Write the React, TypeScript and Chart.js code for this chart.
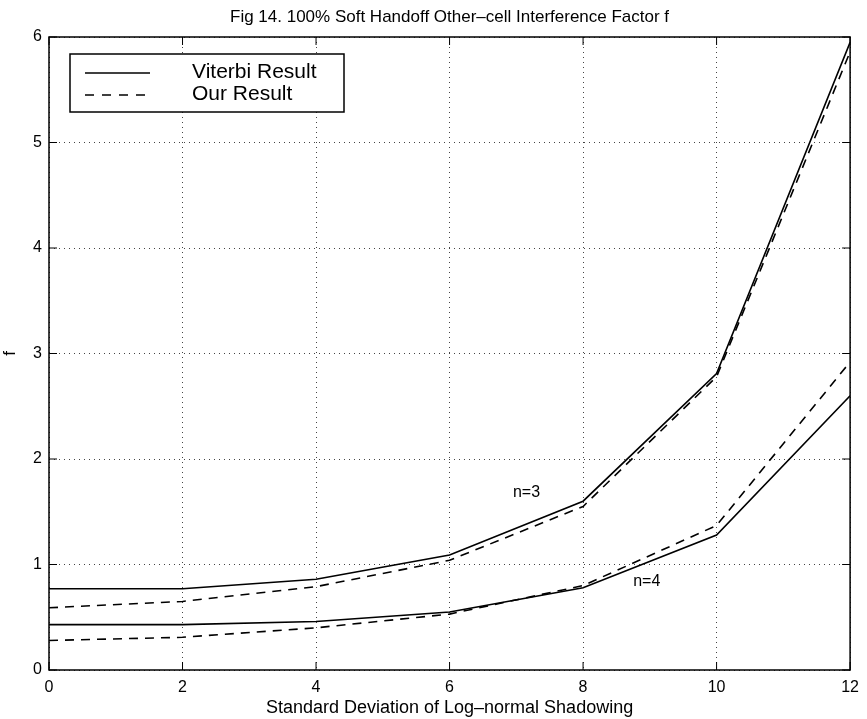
import React, { useEffect, useRef } from "react";
import { Chart, registerables } from "chart.js";

Chart.register(...registerables);

const xValues = [0, 2, 4, 6, 8, 10, 12];
const viterbiN3 = [0.77, 0.77, 0.86, 1.09, 1.6, 2.81, 5.95];
const ourN3 = [0.59, 0.65, 0.79, 1.04, 1.55, 2.78, 5.86];
const viterbiN4 = [0.43, 0.43, 0.46, 0.55, 0.78, 1.28, 2.6];
const ourN4 = [0.28, 0.31, 0.4, 0.53, 0.8, 1.37, 2.92];
const titleText = "Fig 14. 100% Soft Handoff Other\u2013cell Interference Factor f";
const xTitle = "Standard Deviation of Log\u2013normal Shadowing";
const yTitle = "f";
const legendLabels = ["Viterbi Result", "Our Result"];
const annotations = [
  { x: 6.95, y: 1.68, text: "n=3" },
  { x: 8.75, y: 0.84, text: "n=4" },
];

const FONT = "'Liberation Sans', Arial, Helvetica, sans-serif";

const toPts = (ys: number[]) => ys.map((y, i) => ({ x: xValues[i], y }));

const framePlugin = {
  id: "frame",
  afterDraw(chart: any) {
    const { ctx, chartArea } = chart;
    const { left, right, top, bottom } = chartArea;
    const xs = chart.scales.x;
    const ys = chart.scales.y;
    ctx.save();
    ctx.strokeStyle = "#000";
    ctx.lineWidth = 1.5;
    ctx.setLineDash([]);
    ctx.strokeRect(left, top, right - left, bottom - top);
    ctx.lineWidth = 1;
    for (let v = 0; v <= 12; v += 2) {
      const px = xs.getPixelForValue(v);
      ctx.beginPath();
      ctx.moveTo(px, bottom);
      ctx.lineTo(px, bottom - 8);
      ctx.moveTo(px, top);
      ctx.lineTo(px, top + 8);
      ctx.stroke();
    }
    for (let v = 0; v <= 6; v += 1) {
      const py = ys.getPixelForValue(v);
      ctx.beginPath();
      ctx.moveTo(left, py);
      ctx.lineTo(left + 8, py);
      ctx.moveTo(right, py);
      ctx.lineTo(right - 8, py);
      ctx.stroke();
    }
    ctx.fillStyle = "#000";
    ctx.font = `17px ${FONT}`;
    ctx.textAlign = "center";
    ctx.textBaseline = "middle";
    ctx.fillText(titleText, (left + right) / 2, 17);
    ctx.font = `16px ${FONT}`;
    ctx.textAlign = "left";
    for (const a of annotations) {
      ctx.fillText(a.text, xs.getPixelForValue(a.x), ys.getPixelForValue(a.y));
    }
    const lx = 70, ly = 54, lw = 274, lh = 58;
    ctx.fillStyle = "#fff";
    ctx.fillRect(lx, ly, lw, lh);
    ctx.strokeStyle = "#000";
    ctx.lineWidth = 1.5;
    ctx.strokeRect(lx, ly, lw, lh);
    ctx.lineWidth = 1.4;
    ctx.beginPath();
    ctx.moveTo(85, 73);
    ctx.lineTo(150, 73);
    ctx.stroke();
    ctx.setLineDash([9, 8]);
    ctx.beginPath();
    ctx.moveTo(85, 95);
    ctx.lineTo(150, 95);
    ctx.stroke();
    ctx.setLineDash([]);
    ctx.fillStyle = "#000";
    ctx.font = `21px ${FONT}`;
    ctx.textAlign = "left";
    ctx.fillText(legendLabels[0], 192, 72);
    ctx.fillText(legendLabels[1], 192, 94);
    ctx.restore();
  },
};

export default function App() {
  const ref = useRef<HTMLCanvasElement | null>(null);
  useEffect(() => {
    if (!ref.current) return;
    const solid = { borderColor: "#000", borderWidth: 1.6, pointRadius: 0, fill: false, tension: 0 };
    const dashed = { ...solid, borderDash: [9, 7] };
    const chart = new Chart(ref.current, {
      type: "line",
      data: {
        datasets: [
          { label: "Viterbi n=3", data: toPts(viterbiN3), ...solid },
          { label: "Our n=3", data: toPts(ourN3), ...dashed },
          { label: "Viterbi n=4", data: toPts(viterbiN4), ...solid },
          { label: "Our n=4", data: toPts(ourN4), ...dashed },
        ],
      },
      options: {
        animation: false,
        responsive: false,
        maintainAspectRatio: false,
        layout: { padding: { top: 37, right: 12, bottom: 0, left: 0 } },
        plugins: { legend: { display: false }, title: { display: false }, tooltip: { enabled: false } },
        scales: {
          x: {
            type: "linear",
            min: 0,
            max: 12,
            ticks: { stepSize: 2, color: "#000", font: { family: FONT, size: 16 }, padding: 8 },
            grid: { color: "#444", lineWidth: 1, drawTicks: false, tickLength: 0 },
            border: { display: false, dash: [1, 4] },
            title: { display: true, text: xTitle, color: "#000", font: { family: FONT, size: 18 }, padding: { top: 0, bottom: 0 } },
            afterFit: (s: any) => { s.height = 49; },
          },
          y: {
            type: "linear",
            min: 0,
            max: 6,
            ticks: { stepSize: 1, color: "#000", font: { family: FONT, size: 16 }, padding: 7 },
            grid: { color: "#444", lineWidth: 1, drawTicks: false, tickLength: 0 },
            border: { display: false, dash: [1, 4] },
            title: { display: true, text: yTitle, color: "#000", font: { family: FONT, size: 17 }, padding: { top: 0, bottom: 0 } },
            afterFit: (s: any) => { s.width = 49; },
          },
        },
      } as any,
      plugins: [framePlugin],
    });
    return () => chart.destroy();
  }, []);
  return (
    <div style={{ position: "fixed", left: 0, top: 0, width: 867, height: 719, background: "#fff" }}>
      <canvas ref={ref} width={867} height={719} style={{ width: 867, height: 719 }} />
    </div>
  );
}
